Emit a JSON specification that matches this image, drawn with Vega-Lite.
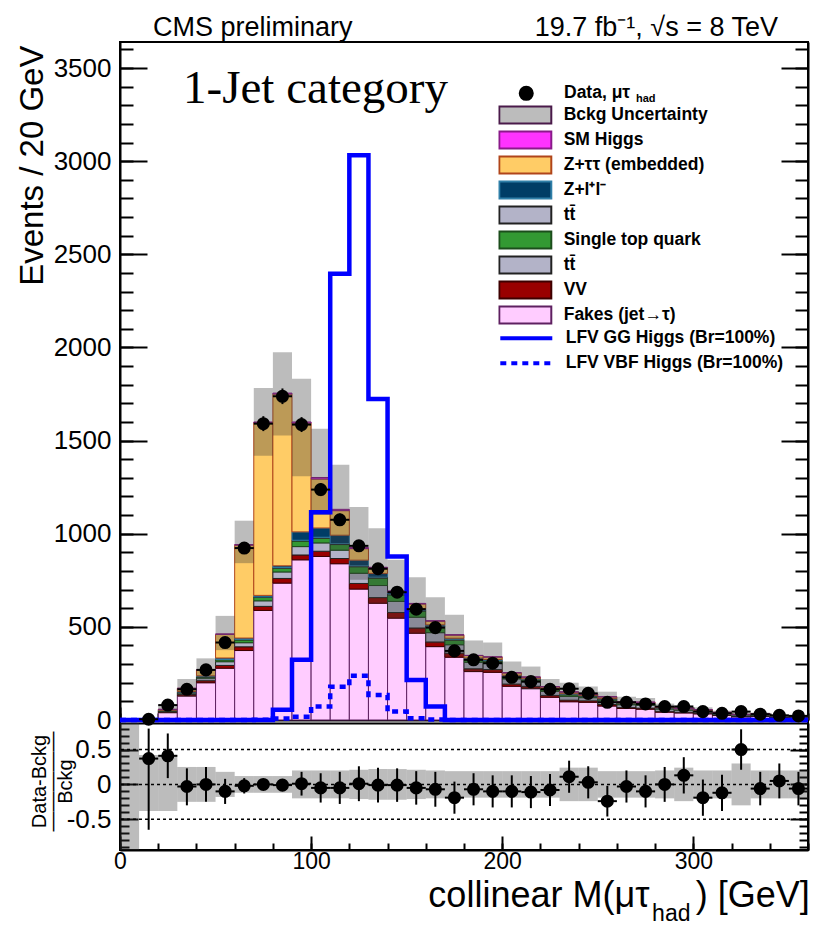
{
  "$schema": "https://vega.github.io/schema/vega-lite/v6.json",
  "width": 688,
  "height": 808,
  "autosize": {"type": "none"},
  "padding": {"left": 120, "top": 42, "right": 7, "bottom": 76},
  "background": "white",
  "config": {
    "font": "Liberation Sans",
    "view": {"stroke": "black", "strokeWidth": 2},
    "axis": {"grid": false, "tickColor": "black", "domainColor": "black", "labelColor": "black", "titleColor": "black", "tickWidth": 2, "domainWidth": 2, "labelFont": "Liberation Sans", "labelFontSize": 26, "titleFont": "Liberation Sans", "titleFontWeight": "normal", "labelFlush": false},
    "legend": {"labelFont": "Liberation Sans", "labelFontWeight": "bold", "labelFontSize": 17.5, "labelColor": "black", "padding": 0, "clipHeight": 20, "rowPadding": 5, "labelLimit": 400}
  },
  "datasets": {
    "comps": [
      {"key": "fk", "comp": "Fakes (jet\u2192\u03c4)", "k": 0},
      {"key": "vv", "comp": "VV", "k": 1},
      {"key": "tt", "comp": "tt\u0304 ", "k": 2},
      {"key": "st", "comp": "Single top quark", "k": 3},
      {"key": "tt2", "comp": "tt\u0304", "k": 4},
      {"key": "zll", "comp": "Z+l\u207al\u207b", "k": 5},
      {"key": "ztt", "comp": "Z+\u03c4\u03c4 (embedded)", "k": 6},
      {"key": "smh", "comp": "SM Higgs", "k": 7}
    ],
    "sigs": [
      {"sk": "gg", "sig": "LFV GG Higgs (Br=100%)"},
      {"sk": "vbf", "sig": "LFV VBF Higgs (Br=100%)"}
    ],
    "bins": [
      {"lo":0,"hi":10,"c":5,"d":null,"dlo":null,"dhi":null,"fk":1,"vv":0,"tt":0,"st":0,"tt2":0,"zll":0,"ztt":0,"smh":0,"blo":0,"bhi":10,"r":null,"rlo":null,"rhi":null,"ulo":-1.2,"uhi":1.2},
      {"lo":10,"hi":20,"c":15,"d":4,"dlo":2,"dhi":6,"fk":2,"vv":0.3,"tt":0.3,"st":0.2,"tt2":0,"zll":0.1,"ztt":0.1,"smh":0,"blo":0,"bhi":8,"r":0.37,"rlo":-0.65,"rhi":0.8,"ulo":-0.38,"uhi":0.42},
      {"lo":20,"hi":30,"c":25,"d":80,"dlo":71,"dhi":89,"fk":40,"vv":4,"tt":4,"st":2,"tt2":1,"zll":1,"ztt":5,"smh":0,"blo":34,"bhi":80,"r":0.41,"rlo":0.09,"rhi":0.73,"ulo":-0.38,"uhi":0.42},
      {"lo":30,"hi":40,"c":35,"d":165,"dlo":152,"dhi":178,"fk":129,"vv":8,"tt":8,"st":4,"tt2":1,"zll":3,"ztt":17,"smh":0,"blo":125,"bhi":220,"r":-0.03,"rlo":-0.3,"rhi":0.23,"ulo":-0.25,"uhi":0.25},
      {"lo":40,"hi":50,"c":45,"d":269,"dlo":253,"dhi":285,"fk":200,"vv":11,"tt":14,"st":6,"tt2":2,"zll":4,"ztt":32,"smh":0,"blo":207,"bhi":331,"r":0,"rlo":-0.25,"rhi":0.25,"ulo":-0.25,"uhi":0.25},
      {"lo":50,"hi":60,"c":55,"d":416,"dlo":396,"dhi":436,"fk":278,"vv":15,"tt":20,"st":10,"tt2":2,"zll":8,"ztt":127,"smh":2,"blo":375,"bhi":559,"r":-0.1,"rlo":-0.28,"rhi":0.08,"ulo":-0.18,"uhi":0.18},
      {"lo":60,"hi":70,"c":65,"d":923,"dlo":893,"dhi":953,"fk":373,"vv":20,"tt":22,"st":15,"tt2":3,"zll":7,"ztt":499,"smh":3,"blo":842,"bhi":1070,"r":-0.02,"rlo":-0.13,"rhi":0.09,"ulo":-0.12,"uhi":0.12},
      {"lo":70,"hi":80,"c":75,"d":1591,"dlo":1551,"dhi":1631,"fk":588,"vv":22,"tt":30,"st":18,"tt2":3,"zll":8,"ztt":927,"smh":4,"blo":1419,"bhi":1783,"r":0,"rlo":-0.07,"rhi":0.07,"ulo":-0.12,"uhi":0.12},
      {"lo":80,"hi":90,"c":85,"d":1738,"dlo":1696,"dhi":1780,"fk":735,"vv":25,"tt":35,"st":20,"tt2":3,"zll":10,"ztt":922,"smh":5,"blo":1527,"bhi":1975,"r":-0.01,"rlo":-0.08,"rhi":0.06,"ulo":-0.12,"uhi":0.12},
      {"lo":90,"hi":100,"c":95,"d":1586,"dlo":1546,"dhi":1626,"fk":860,"vv":26,"tt":45,"st":30,"tt2":4,"zll":45,"ztt":584,"smh":6,"blo":1308,"bhi":1832,"r":0.01,"rlo":-0.16,"rhi":0.18,"ulo":-0.2,"uhi":0.2},
      {"lo":100,"hi":110,"c":105,"d":1237,"dlo":1202,"dhi":1272,"fk":878,"vv":28,"tt":45,"st":25,"tt2":5,"zll":50,"ztt":263,"smh":8,"blo":1100,"bhi":1563,"r":-0.05,"rlo":-0.26,"rhi":0.16,"ulo":-0.2,"uhi":0.2},
      {"lo":110,"hi":120,"c":115,"d":1075,"dlo":1042,"dhi":1108,"fk":839,"vv":28,"tt":45,"st":30,"tt2":5,"zll":45,"ztt":132,"smh":7,"blo":910,"bhi":1371,"r":-0.05,"rlo":-0.28,"rhi":0.18,"ulo":-0.2,"uhi":0.2},
      {"lo":120,"hi":130,"c":125,"d":935,"dlo":904,"dhi":966,"fk":703,"vv":30,"tt":55,"st":35,"tt2":5,"zll":30,"ztt":62,"smh":6,"blo":753,"bhi":1143,"r":0.01,"rlo":-0.24,"rhi":0.26,"ulo":-0.21,"uhi":0.21},
      {"lo":130,"hi":140,"c":135,"d":812,"dlo":784,"dhi":840,"fk":627,"vv":30,"tt":65,"st":40,"tt2":5,"zll":20,"ztt":30,"smh":3,"blo":627,"bhi":1030,"r":-0.01,"rlo":-0.26,"rhi":0.24,"ulo":-0.22,"uhi":0.22},
      {"lo":140,"hi":150,"c":145,"d":686,"dlo":660,"dhi":712,"fk":547,"vv":30,"tt":60,"st":35,"tt2":5,"zll":8,"ztt":5,"smh":3,"blo":547,"bhi":860,"r":-0.01,"rlo":-0.25,"rhi":0.23,"ulo":-0.22,"uhi":0.22},
      {"lo":150,"hi":160,"c":155,"d":595,"dlo":571,"dhi":619,"fk":466,"vv":28,"tt":58,"st":33,"tt2":5,"zll":8,"ztt":25,"smh":3,"blo":466,"bhi":767,"r":-0.05,"rlo":-0.29,"rhi":0.19,"ulo":-0.21,"uhi":0.21},
      {"lo":160,"hi":170,"c":165,"d":496,"dlo":474,"dhi":518,"fk":394,"vv":25,"tt":50,"st":30,"tt2":5,"zll":7,"ztt":20,"smh":2,"blo":412,"bhi":659,"r":-0.07,"rlo":-0.32,"rhi":0.18,"ulo":-0.2,"uhi":0.2},
      {"lo":170,"hi":180,"c":175,"d":371,"dlo":352,"dhi":390,"fk":337,"vv":22,"tt":45,"st":25,"tt2":4,"zll":6,"ztt":17,"smh":2,"blo":341,"bhi":565,"r":-0.19,"rlo":-0.42,"rhi":0.04,"ulo":-0.19,"uhi":0.19},
      {"lo":180,"hi":190,"c":185,"d":323,"dlo":305,"dhi":341,"fk":260,"vv":15,"tt":35,"st":15,"tt2":3,"zll":5,"ztt":13,"smh":1,"blo":260,"bhi":427,"r":-0.07,"rlo":-0.3,"rhi":0.16,"ulo":-0.19,"uhi":0.19},
      {"lo":190,"hi":200,"c":195,"d":305,"dlo":288,"dhi":322,"fk":256,"vv":15,"tt":32,"st":14,"tt2":3,"zll":5,"ztt":13,"smh":1,"blo":260,"bhi":416,"r":-0.1,"rlo":-0.33,"rhi":0.13,"ulo":-0.19,"uhi":0.19},
      {"lo":200,"hi":210,"c":205,"d":229,"dlo":214,"dhi":244,"fk":181,"vv":12,"tt":28,"st":12,"tt2":3,"zll":4,"ztt":13,"smh":1,"blo":188,"bhi":314,"r":-0.1,"rlo":-0.33,"rhi":0.13,"ulo":-0.19,"uhi":0.19},
      {"lo":210,"hi":220,"c":215,"d":206,"dlo":192,"dhi":220,"fk":170,"vv":11,"tt":25,"st":10,"tt2":2,"zll":3,"ztt":9,"smh":1,"blo":161,"bhi":287,"r":-0.11,"rlo":-0.34,"rhi":0.12,"ulo":-0.19,"uhi":0.19},
      {"lo":220,"hi":230,"c":225,"d":165,"dlo":152,"dhi":178,"fk":122,"vv":10,"tt":22,"st":10,"tt2":2,"zll":3,"ztt":9,"smh":1,"blo":125,"bhi":220,"r":-0.08,"rlo":-0.31,"rhi":0.15,"ulo":-0.19,"uhi":0.19},
      {"lo":230,"hi":240,"c":235,"d":168,"dlo":155,"dhi":181,"fk":98,"vv":9,"tt":20,"st":9,"tt2":2,"zll":3,"ztt":9,"smh":1,"blo":110,"bhi":200,"r":0.11,"rlo":-0.12,"rhi":0.34,"ulo":-0.24,"uhi":0.24},
      {"lo":240,"hi":250,"c":245,"d":143,"dlo":131,"dhi":155,"fk":95,"vv":8,"tt":17,"st":8,"tt2":2,"zll":2,"ztt":6,"smh":1,"blo":105,"bhi":180,"r":0.03,"rlo":-0.2,"rhi":0.26,"ulo":-0.24,"uhi":0.24},
      {"lo":250,"hi":260,"c":255,"d":95,"dlo":85,"dhi":105,"fk":75,"vv":8,"tt":20,"st":8,"tt2":2,"zll":2,"ztt":9,"smh":1,"blo":95,"bhi":152,"r":-0.24,"rlo":-0.46,"rhi":-0.02,"ulo":-0.19,"uhi":0.19},
      {"lo":260,"hi":270,"c":265,"d":95,"dlo":85,"dhi":105,"fk":62,"vv":6,"tt":14,"st":6,"tt2":1,"zll":2,"ztt":6,"smh":1,"blo":78,"bhi":125,"r":-0.03,"rlo":-0.26,"rhi":0.2,"ulo":-0.19,"uhi":0.19},
      {"lo":270,"hi":280,"c":275,"d":86,"dlo":77,"dhi":95,"fk":58,"vv":6,"tt":15,"st":6,"tt2":1,"zll":2,"ztt":7,"smh":1,"blo":75,"bhi":118,"r":-0.1,"rlo":-0.33,"rhi":0.13,"ulo":-0.19,"uhi":0.19},
      {"lo":280,"hi":290,"c":285,"d":72,"dlo":63.5,"dhi":80.5,"fk":42,"vv":5,"tt":12,"st":5,"tt2":1,"zll":1,"ztt":5,"smh":1,"blo":58,"bhi":88,"r":0,"rlo":-0.25,"rhi":0.25,"ulo":-0.2,"uhi":0.2},
      {"lo":290,"hi":300,"c":295,"d":72,"dlo":63.5,"dhi":80.5,"fk":38,"vv":4,"tt":11,"st":4,"tt2":1,"zll":1,"ztt":4,"smh":1,"blo":48,"bhi":80,"r":0.13,"rlo":-0.13,"rhi":0.39,"ulo":-0.24,"uhi":0.24},
      {"lo":300,"hi":310,"c":305,"d":45,"dlo":38,"dhi":52,"fk":33,"vv":4,"tt":9,"st":4,"tt2":1,"zll":1,"ztt":3,"smh":1,"blo":44,"bhi":68,"r":-0.19,"rlo":-0.45,"rhi":0.07,"ulo":-0.2,"uhi":0.2},
      {"lo":310,"hi":320,"c":315,"d":36,"dlo":30,"dhi":42,"fk":24,"vv":3,"tt":7,"st":3,"tt2":1,"zll":1,"ztt":2,"smh":0,"blo":32,"bhi":50,"r":-0.12,"rlo":-0.38,"rhi":0.14,"ulo":-0.2,"uhi":0.2},
      {"lo":320,"hi":330,"c":325,"d":45,"dlo":38,"dhi":52,"fk":17,"vv":2,"tt":6,"st":2,"tt2":0,"zll":1,"ztt":2,"smh":0,"blo":21,"bhi":39,"r":0.5,"rlo":0.21,"rhi":0.79,"ulo":-0.3,"uhi":0.3},
      {"lo":330,"hi":340,"c":335,"d":31,"dlo":25.4,"dhi":36.6,"fk":19,"vv":2,"tt":6,"st":2,"tt2":1,"zll":1,"ztt":2,"smh":0,"blo":26,"bhi":40,"r":-0.06,"rlo":-0.3,"rhi":0.18,"ulo":-0.2,"uhi":0.2},
      {"lo":340,"hi":350,"c":345,"d":25,"dlo":20,"dhi":30,"fk":14,"vv":2,"tt":4,"st":2,"tt2":0,"zll":1,"ztt":1,"smh":0,"blo":19,"bhi":29,"r":0.05,"rlo":-0.2,"rhi":0.3,"ulo":-0.2,"uhi":0.2},
      {"lo":350,"hi":360,"c":355,"d":22,"dlo":17.3,"dhi":26.7,"fk":13,"vv":2,"tt":4,"st":2,"tt2":0,"zll":1,"ztt":1,"smh":0,"blo":18,"bhi":28,"r":-0.06,"rlo":-0.3,"rhi":0.18,"ulo":-0.2,"uhi":0.2}
    ],
    "sig": [
      {"x":0,"gg":0,"vbf":0},{"x":10,"gg":0,"vbf":0},{"x":20,"gg":0,"vbf":0},{"x":30,"gg":0,"vbf":0},
      {"x":40,"gg":0,"vbf":0},{"x":50,"gg":0,"vbf":0},{"x":60,"gg":0,"vbf":0},{"x":70,"gg":0,"vbf":2},
      {"x":80,"gg":55,"vbf":8},{"x":90,"gg":323,"vbf":18},{"x":100,"gg":1115,"vbf":72},{"x":110,"gg":2396,"vbf":179},
      {"x":120,"gg":3032,"vbf":237},{"x":130,"gg":1724,"vbf":134},{"x":140,"gg":878,"vbf":45},{"x":150,"gg":215,"vbf":10},
      {"x":160,"gg":72,"vbf":3},{"x":170,"gg":0,"vbf":0},{"x":180,"gg":0,"vbf":0},{"x":190,"gg":0,"vbf":0},
      {"x":200,"gg":0,"vbf":0},{"x":210,"gg":0,"vbf":0},{"x":220,"gg":0,"vbf":0},{"x":230,"gg":0,"vbf":0},
      {"x":240,"gg":0,"vbf":0},{"x":250,"gg":0,"vbf":0},{"x":260,"gg":0,"vbf":0},{"x":270,"gg":0,"vbf":0},
      {"x":280,"gg":0,"vbf":0},{"x":290,"gg":0,"vbf":0},{"x":300,"gg":0,"vbf":0},{"x":310,"gg":0,"vbf":0},
      {"x":320,"gg":0,"vbf":0},{"x":330,"gg":0,"vbf":0},{"x":340,"gg":0,"vbf":0},{"x":350,"gg":0,"vbf":0},
      {"x":360,"gg":0,"vbf":0}
    ]
  },
  "layer": [
    {
      "layer": [
        {
          "data": {"name": "bins"},
          "transform": [
            {"fold": ["fk","vv","tt","st","tt2","zll","ztt","smh"], "as": ["key","v"]},
            {"lookup": "key", "from": {"data": {"name": "comps"}, "key": "key", "fields": ["comp","k"]}},
            {"stack": "v", "groupby": ["lo"], "sort": [{"field": "k", "order": "ascending"}], "as": ["y0","y1"]}
          ],
          "mark": {"type": "bar", "strokeWidth": 1},
          "encoding": {
            "x": {"field": "lo", "type": "quantitative", "scale": {"domain": [0,360], "nice": false, "zero": false},
                  "axis": {"orient": "bottom", "offset": -130, "values": [0,100,200,300], "labels": false, "domain": true, "tickSize": -13, "title": null}},
            "x2": {"field": "hi"},
            "y": {"field": "y0", "type": "quantitative", "stack": null, "scale": {"domain": [0,3640], "range": [678,0], "nice": false, "zero": true},
                  "axis": {"orient": "left", "values": [0,500,1000,1500,2000,2500,3000,3500], "format": "d", "ticks": false, "labels": true, "labelPadding": 9, "domain": true,
                           "title": "Events / 20 GeV", "titleFontSize": 33, "titleAngle": 270, "titleX": -78, "titleY": 3, "titleAlign": "right", "titleBaseline": "alphabetic"}},
            "y2": {"field": "y1"},
            "fill": {"field": "comp", "type": "nominal",
                     "scale": {"domain": ["Bckg Uncertainty","SM Higgs","Z+\u03c4\u03c4 (embedded)","Z+l\u207al\u207b","tt\u0304","Single top quark","tt\u0304 ","VV","Fakes (jet\u2192\u03c4)"],
                               "range": ["rgba(60,60,60,0.34)","#ff33ff","#ffcc66","#003d66","#b3b3c8","#339933","#b3b3c8","#990000","#ffccff"]},
                     "legend": {"orient": "none", "legendX": 378.3, "legendY": 63, "title": null, "symbolType": "M-1,-0.33H1V0.33H-1Z", "symbolSize": 2704, "symbolStrokeWidth": 2, "labelOffset": 11.4}},
            "stroke": {"field": "comp", "type": "nominal",
                       "scale": {"domain": ["Bckg Uncertainty","SM Higgs","Z+\u03c4\u03c4 (embedded)","Z+l\u207al\u207b","tt\u0304","Single top quark","tt\u0304 ","VV","Fakes (jet\u2192\u03c4)"],
                                 "range": ["#4a1a4a","#8a1a8a","#b0451a","#2f7fa8","#222222","#1c4d1c","#222222","#3d0000","#5e2060"]},
                       "legend": {"orient": "none", "legendX": 378.3, "legendY": 63, "title": null, "symbolType": "M-1,-0.33H1V0.33H-1Z", "symbolSize": 2704, "symbolStrokeWidth": 2, "labelOffset": 11.4}}
          }
        },
        {
          "data": {"name": "bins"},
          "mark": {"type": "bar"},
          "encoding": {
            "x": {"field": "lo", "type": "quantitative",
                  "axis": {"orient": "bottom", "offset": -130, "values": [0,20,40,60,80,100,120,140,160,180,200,220,240,260,280,300,320,340,360], "labels": false, "domain": false, "tickSize": -7, "title": null}},
            "x2": {"field": "hi"},
            "y": {"field": "blo", "type": "quantitative",
                  "axis": {"orient": "left", "values": [0,100,200,300,400,500,600,700,800,900,1000,1100,1200,1300,1400,1500,1600,1700,1800,1900,2000,2100,2200,2300,2400,2500,2600,2700,2800,2900,3000,3100,3200,3300,3400,3500,3600], "labels": false, "domain": false, "tickSize": -13, "title": null}},
            "y2": {"field": "bhi"},
            "fill": {"datum": "Bckg Uncertainty", "type": "nominal"}
          }
        },
        {
          "data": {"name": "sig"},
          "transform": [
            {"fold": ["gg","vbf"], "as": ["sk","n"]},
            {"lookup": "sk", "from": {"data": {"name": "sigs"}, "key": "sk", "fields": ["sig"]}}
          ],
          "mark": {"type": "line", "interpolate": "step-after", "color": "#0000ff", "strokeWidth": 4.5},
          "encoding": {
            "x": {"field": "x", "type": "quantitative", "axis": null},
            "y": {"field": "n", "type": "quantitative",
                  "axis": {"orient": "left", "values": [0,500,1000,1500,2000,2500,3000,3500], "labels": false, "domain": false, "tickSize": -27, "title": null}},
            "strokeDash": {"field": "sig", "type": "nominal",
                           "scale": {"domain": ["LFV GG Higgs (Br=100%)","LFV VBF Higgs (Br=100%)"], "range": [[1,0],[6,5]]},
                           "legend": {"orient": "none", "legendX": 378.3, "legendY": 286.3, "title": null, "symbolType": "stroke", "symbolSize": 2704, "symbolStrokeWidth": 4, "symbolStrokeColor": "#0000ff", "labelOffset": 11.4}}
          }
        },
        {
          "data": {"name": "bins"},
          "mark": {"type": "rule", "color": "black", "strokeWidth": 2},
          "encoding": {
            "x": {"field": "c", "type": "quantitative", "axis": null},
            "y": {"field": "dlo", "type": "quantitative",
                  "axis": {"orient": "right", "values": [0,500,1000,1500,2000,2500,3000,3500], "labels": false, "domain": true, "tickSize": -27, "title": null}},
            "y2": {"field": "dhi"}
          }
        },
        {
          "data": {"name": "bins"},
          "mark": {"type": "rule", "color": "black", "strokeWidth": 2},
          "encoding": {
            "x": {"field": "lo", "type": "quantitative", "axis": null},
            "x2": {"field": "hi"},
            "y": {"field": "d", "type": "quantitative",
                  "axis": {"orient": "right", "values": [0,100,200,300,400,500,600,700,800,900,1000,1100,1200,1300,1400,1500,1600,1700,1800,1900,2000,2100,2200,2300,2400,2500,2600,2700,2800,2900,3000,3100,3200,3300,3400,3500,3600], "labels": false, "domain": false, "tickSize": -13, "title": null}}
          }
        },
        {
          "data": {"name": "bins"},
          "mark": {"type": "point", "filled": true, "color": "black", "size": 170, "opacity": 1},
          "encoding": {
            "x": {"field": "c", "type": "quantitative", "axis": null},
            "y": {"field": "d", "type": "quantitative", "axis": null},
            "shape": {"datum": "Data, \u03bc\u03c4", "type": "nominal", "scale": {"range": ["circle"]},
                      "legend": {"orient": "none", "legendX": 397.5, "legendY": 41.3, "title": null, "symbolSize": 227, "symbolFillColor": "black", "symbolStrokeColor": "black", "labelOffset": 29}}
          }
        },
        {
          "data": {"values": [{}]},
          "mark": {"type": "text", "text": "CMS preliminary", "font": "Liberation Sans", "fontSize": 27, "align": "left", "baseline": "alphabetic", "color": "black"},
          "encoding": {"x": {"datum": 17.3, "axis": null}, "y": {"datum": 3672, "axis": null}}
        },
        {
          "data": {"values": [{}]},
          "mark": {"type": "text", "text": "19.7 fb\u207b\u00b9, \u221as = 8 TeV", "font": "Liberation Sans", "fontSize": 27, "align": "right", "baseline": "alphabetic", "color": "black"},
          "encoding": {"x": {"datum": 344.3, "axis": null}, "y": {"datum": 3672, "axis": null}}
        },
        {
          "data": {"values": [{}]},
          "mark": {"type": "text", "text": "1-Jet category", "font": "Liberation Serif", "fontSize": 47, "align": "left", "baseline": "alphabetic", "color": "black"},
          "encoding": {"x": {"datum": 33, "axis": null}, "y": {"datum": 3315, "axis": null}}
        },
        {
          "data": {"values": [{}]},
          "mark": {"type": "text", "text": "had", "font": "Liberation Sans", "fontWeight": "bold", "fontSize": 11, "align": "left", "baseline": "alphabetic", "color": "black"},
          "encoding": {"x": {"datum": 270, "axis": null}, "y": {"datum": 3318, "axis": null}}
        },
        {
          "data": {"values": [{}]},
          "mark": {"type": "text", "text": "collinear M(\u03bc\u03c4", "font": "Liberation Sans", "fontSize": 36, "align": "right", "baseline": "alphabetic", "color": "black"},
          "encoding": {"x": {"datum": 277, "axis": null}, "y": {"datum": -1004, "axis": null}}
        },
        {
          "data": {"values": [{}]},
          "mark": {"type": "text", "text": "had", "font": "Liberation Sans", "fontSize": 23, "align": "right", "baseline": "alphabetic", "color": "black"},
          "encoding": {"x": {"datum": 298.5, "axis": null}, "y": {"datum": -1080, "axis": null}}
        },
        {
          "data": {"values": [{}]},
          "mark": {"type": "text", "text": ") [GeV]", "font": "Liberation Sans", "fontSize": 36, "align": "right", "baseline": "alphabetic", "color": "black"},
          "encoding": {"x": {"datum": 360.9, "axis": null}, "y": {"datum": -1004, "axis": null}}
        }
      ],
      "resolve": {"axis": {"x": "independent", "y": "independent"}}
    },
    {
      "layer": [
        {
          "data": {"name": "bins"},
          "mark": {"type": "bar", "fill": "rgba(60,60,60,0.34)"},
          "encoding": {
            "x": {"field": "lo", "type": "quantitative",
                  "axis": {"orient": "bottom", "values": [0,100,200,300], "ticks": false, "labels": true, "labelPadding": 0, "labelFontSize": 23, "domain": true, "title": null}},
            "x2": {"field": "hi"},
            "y": {"field": "ulo", "type": "quantitative", "scale": {"domain": [-0.94,0.88], "range": [808,681], "nice": false, "zero": false, "clamp": true},
                  "axis": {"orient": "left", "values": [-0.5,0,0.5], "ticks": false, "labels": true, "labelPadding": 9, "domain": true,
                           "labelExpr": "datum.value < 0 ? '-' + format(-datum.value, '.1~f') : format(datum.value, '.1~f')",
                           "title": ["Data-Bckg", "\u2014\u2014\u2014\u2014\u2014", "Bckg"], "titleFontSize": 20, "titleLineHeight": 13, "titleAngle": 270,
                           "titleX": -75, "titleY": 739, "titleAlign": "center", "titleBaseline": "alphabetic"}},
            "y2": {"field": "uhi"}
          }
        },
        {
          "data": {"values": [{"v": -0.5}, {"v": 0}, {"v": 0.5}]},
          "mark": {"type": "rule", "color": "black", "strokeWidth": 1.5, "strokeDash": [3,3]},
          "encoding": {
            "y": {"field": "v", "type": "quantitative",
                  "axis": {"orient": "left", "values": [-0.9,-0.8,-0.7,-0.6,-0.5,-0.4,-0.3,-0.2,-0.1,0,0.1,0.2,0.3,0.4,0.5,0.6,0.7,0.8], "labels": false, "domain": false, "tickSize": -9, "title": null}}
          }
        },
        {
          "data": {"name": "bins"},
          "mark": {"type": "rule", "color": "black", "strokeWidth": 2},
          "encoding": {
            "x": {"field": "c", "type": "quantitative",
                  "axis": {"orient": "bottom", "values": [0,100,200,300], "labels": false, "domain": false, "tickSize": -14, "title": null}},
            "y": {"field": "rlo", "type": "quantitative",
                  "axis": {"orient": "left", "values": [-0.5,0,0.5], "labels": false, "domain": false, "tickSize": -18, "title": null}},
            "y2": {"field": "rhi"}
          }
        },
        {
          "data": {"name": "bins"},
          "mark": {"type": "rule", "color": "black", "strokeWidth": 2},
          "encoding": {
            "x": {"field": "lo", "type": "quantitative",
                  "axis": {"orient": "bottom", "values": [0,20,40,60,80,100,120,140,160,180,200,220,240,260,280,300,320,340,360], "labels": false, "domain": false, "tickSize": -7, "title": null}},
            "x2": {"field": "hi"},
            "y": {"field": "r", "type": "quantitative",
                  "axis": {"orient": "right", "values": [-0.5,0,0.5], "labels": false, "domain": true, "tickSize": -18, "title": null}}
          }
        },
        {
          "data": {"name": "bins"},
          "mark": {"type": "point", "filled": true, "color": "black", "size": 170, "opacity": 1},
          "encoding": {
            "x": {"field": "c", "type": "quantitative",
                  "axis": {"orient": "top", "offset": -681, "ticks": false, "labels": false, "domain": true, "title": null}},
            "y": {"field": "r", "type": "quantitative",
                  "axis": {"orient": "right", "values": [-0.9,-0.8,-0.7,-0.6,-0.5,-0.4,-0.3,-0.2,-0.1,0,0.1,0.2,0.3,0.4,0.5,0.6,0.7,0.8], "labels": false, "domain": false, "tickSize": -9, "title": null}}
          }
        }
      ],
      "resolve": {"axis": {"x": "independent", "y": "independent"}}
    }
  ],
  "resolve": {"scale": {"y": "independent"}, "axis": {"x": "independent", "y": "independent"}}
}
